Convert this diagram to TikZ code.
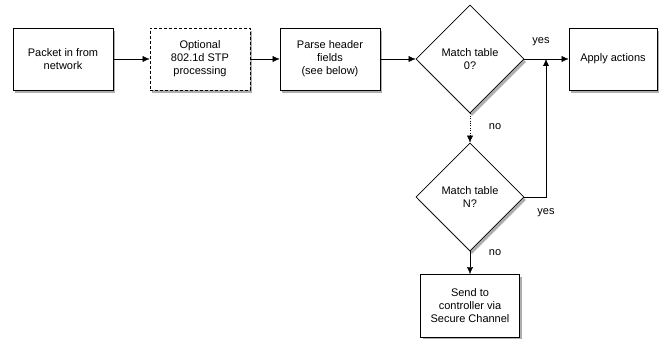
\documentclass[tikz,border=0pt]{standalone}
\usepackage{fontspec}
\setmainfont{Liberation Sans}
\usetikzlibrary{shapes.geometric,shadows,arrows.meta}

\begin{document}
\begin{tikzpicture}[x=1pt, y=-1pt, >={Latex[length=7pt,width=6pt]},
  flowbox/.style={rectangle, draw, fill=white, thick, minimum width=100pt, minimum height=62pt,
    align=center, font=\fontsize{11}{13}\selectfont,
    drop shadow={shadow xshift=2pt, shadow yshift=-3pt, fill=black!70, opacity=0.45}},
  decision/.style={diamond, draw, fill=white, thick, minimum width=108pt, minimum height=108pt,
    aspect=1, inner sep=0pt, align=center, font=\fontsize{11}{13}\selectfont,
    drop shadow={shadow xshift=2pt, shadow yshift=-3pt, fill=black!70, opacity=0.45}},
  lbl/.style={font=\fontsize{11}{13}\selectfont}]
  \useasboundingbox (0,0) rectangle (659,339);
  \draw (63,59) node[flowbox] (packet) {Packet in from\\network};
  \draw (200,59) node[flowbox, dash pattern=on 3pt off 2pt] (stp) {Optional\\802.1d STP\\processing};
  \draw (330,59) node[flowbox] (parse) {Parse header\\fields\\(see below)};
  \draw (470,59) node[decision] (match0) {Match table\\0?};
  \draw (613,59) node[flowbox, minimum width=88pt] (apply) {Apply actions};
  \draw (470,197) node[decision] (matchN) {Match table\\N?};
  \draw (470,306) node[flowbox, minimum width=99pt, minimum height=63pt] (send) {Send to\\controller via\\Secure Channel};
  \coordinate (join) at (546,59);
  \draw[->] (packet) -- (stp);
  \draw[->] (stp) -- (parse);
  \draw[->] (parse) -- (match0);
  \draw[->] (match0) -- (apply);
  \draw[->, dotted] (match0.south) -- (matchN.north);
  \draw[->] (matchN.east) -| (join);
  \draw[->] (matchN.south) -- (send.north);
  \draw (541,42) node[lbl] (yes0) {yes};
  \draw (495,127) node[lbl] (no0) {no};
  \draw (546,213) node[lbl] (yesN) {yes};
  \draw (495,253) node[lbl] (noN) {no};
\end{tikzpicture}
\end{document}
